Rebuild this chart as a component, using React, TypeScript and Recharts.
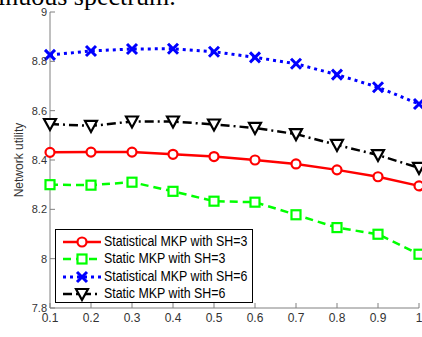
import React from "react";
import { LineChart, Line, XAxis, YAxis, Legend, Label } from "recharts";

const pValues = [0.1, 0.2, 0.3, 0.4, 0.5, 0.6, 0.7, 0.8, 0.9, 1.0];
const statSH3 = [8.431, 8.432, 8.432, 8.423, 8.414, 8.4, 8.384, 8.36, 8.332, 8.295];
const staticSH3 = [8.3, 8.298, 8.31, 8.273, 8.233, 8.229, 8.178, 8.126, 8.099, 8.018];
const statSH6 = [8.826, 8.842, 8.85, 8.851, 8.839, 8.816, 8.79, 8.746, 8.695, 8.627];
const staticSH6 = [8.546, 8.538, 8.556, 8.556, 8.544, 8.53, 8.505, 8.461, 8.42, 8.368];
const xTicks = [0.1, 0.2, 0.3, 0.4, 0.5, 0.6, 0.7, 0.8, 0.9, 1];
const yTicks = [7.8, 8, 8.2, 8.4, 8.6, 8.8, 9];

const data = pValues.map((p, i) => ({
  p,
  statSH3: statSH3[i],
  staticSH3: staticSH3[i],
  statSH6: statSH6[i],
  staticSH6: staticSH6[i],
}));

type MarkerKind = "circle" | "square" | "cross" | "triangle";

const series = [
  { key: "statSH3", name: "Statistical MKP with SH=3", color: "#ff0000", dash: undefined, width: 2.5, marker: "circle" as MarkerKind },
  { key: "staticSH3", name: "Static MKP with SH=3", color: "#00ff00", dash: "8 5", width: 2.5, marker: "square" as MarkerKind },
  { key: "statSH6", name: "Statistical MKP with SH=6", color: "#0000ff", dash: "3 4", width: 3, marker: "cross" as MarkerKind },
  { key: "staticSH6", name: "Static MKP with SH=6", color: "#000000", dash: "9 4 2 4", width: 2.5, marker: "triangle" as MarkerKind },
];

function Marker({ kind, cx, cy, color }: { kind: MarkerKind; cx: number; cy: number; color: string }) {
  if (kind === "circle") {
    return <circle cx={cx} cy={cy} r={4.5} fill="#fff" stroke={color} strokeWidth={2.2} />;
  }
  if (kind === "square") {
    return <rect x={cx - 4.5} y={cy - 4.5} width={9} height={9} fill="#fff" stroke={color} strokeWidth={2.2} />;
  }
  if (kind === "cross") {
    return (
      <path
        d={`M${cx - 5},${cy - 5}L${cx + 5},${cy + 5}M${cx - 5},${cy + 5}L${cx + 5},${cy - 5}`}
        stroke={color}
        strokeWidth={3}
        fill="none"
      />
    );
  }
  return (
    <path
      d={`M${cx - 6},${cy - 5}L${cx + 6},${cy - 5}L${cx},${cy + 6}Z`}
      fill="#fff"
      stroke={color}
      strokeWidth={2.2}
      strokeLinejoin="miter"
    />
  );
}

function LegendBox() {
  return (
    <div
      style={{
        position: "relative",
        border: "1.5px solid #000",
        background: "#fff",
        width: 198,
        height: 74,
        boxSizing: "border-box",
        fontFamily: "Arial, 'Liberation Sans', sans-serif",
        fontSize: 12.4,
        color: "#000",
        textAlign: "left",
      }}
    >
      {series.map((s, i) => (
        <div key={s.key} style={{ position: "absolute", left: 6, top: 3 + i * 17.3, width: 190, height: 17 }}>
          <svg width={40} height={16} style={{ position: "absolute", left: 0, top: 1 }}>
            <line x1={1} y1={8} x2={39} y2={8} stroke={s.color} strokeWidth={s.width} strokeDasharray={s.dash} />
            <Marker kind={s.marker} cx={20} cy={8} color={s.color} />
          </svg>
          <span
            style={{
              position: "absolute",
              left: 42,
              top: 0,
              lineHeight: "17px",
              whiteSpace: "nowrap",
              display: "inline-block",
              transform: "scaleY(1.15)",
            }}
          >
            {s.name}
          </span>
        </div>
      ))}
    </div>
  );
}

const fmt = (v: number) => String(Number(v.toFixed(1)));
const axisGray = "#808080";
const tickFont = { fontSize: 11, fill: "#333", fontFamily: "Arial, 'Liberation Sans', sans-serif" };

export default function App() {
  return (
    <div style={{ position: "absolute", left: 0, top: 0, width: 422, height: 337, background: "#fff", overflow: "hidden" }}>
      <div
        style={{
          position: "absolute",
          left: -2,
          top: -17,
          fontFamily: "'Liberation Serif', 'Times New Roman', serif",
          fontSize: 26,
          color: "#000",
          whiteSpace: "nowrap",
          zIndex: 2,
          lineHeight: "28px",
        }}
      >
        inuous spectrum.
      </div>
      <LineChart width={422} height={337} data={data} margin={{ top: 12, right: 3, bottom: 0, left: 0 }}>
        <XAxis
          dataKey="p"
          type="number"
          domain={[0.1, 1]}
          ticks={xTicks}
          tickFormatter={fmt}
          height={29}
          stroke={axisGray}
          tickSize={-5}
          tickMargin={10}
          tick={{ ...tickFont, fontSize: 12 }}
          interval={0}
        >
          <Label value="p" position="insideBottom" offset={-12} style={{ ...tickFont, fontSize: 13 }} />
        </XAxis>
        <XAxis
          xAxisId="top"
          orientation="top"
          dataKey="p"
          type="number"
          domain={[0.1, 1]}
          ticks={xTicks}
          height={0}
          stroke={axisGray}
          tickSize={-5}
          tick={() => <g />}
          interval={0}
        />
        <YAxis
          type="number"
          domain={[7.8, 9]}
          ticks={yTicks}
          tickFormatter={fmt}
          width={50}
          stroke={axisGray}
          tickSize={-5}
          tickMargin={8}
          tick={tickFont}
          interval={0}
        >
          <Label
            value="Network utility"
            angle={-90}
            position="insideLeft"
            offset={19}
            style={{ ...tickFont, fontSize: 12, textAnchor: "middle" }}
          />
        </YAxis>
        <YAxis
          yAxisId="right"
          orientation="right"
          type="number"
          domain={[7.8, 9]}
          ticks={yTicks}
          width={0}
          stroke={axisGray}
          tickSize={-5}
          tick={() => <g />}
          interval={0}
        />
        {series.map((s) => (
          <Line
            key={s.key}
            dataKey={s.key}
            name={s.name}
            type="linear"
            stroke={s.color}
            strokeWidth={s.width}
            strokeDasharray={s.dash}
            isAnimationActive={false}
            dot={(props: any) => (
              <Marker key={`${s.key}-${props.index}`} kind={s.marker} cx={props.cx} cy={props.cy} color={s.color} />
            )}
            activeDot={false}
          />
        ))}
        <Legend
          layout="horizontal"
          verticalAlign="middle"
          align="center"
          content={() => <LegendBox />}
          wrapperStyle={{ left: 55, top: 229, width: 198, height: 74 }}
        />
      </LineChart>
    </div>
  );
}
